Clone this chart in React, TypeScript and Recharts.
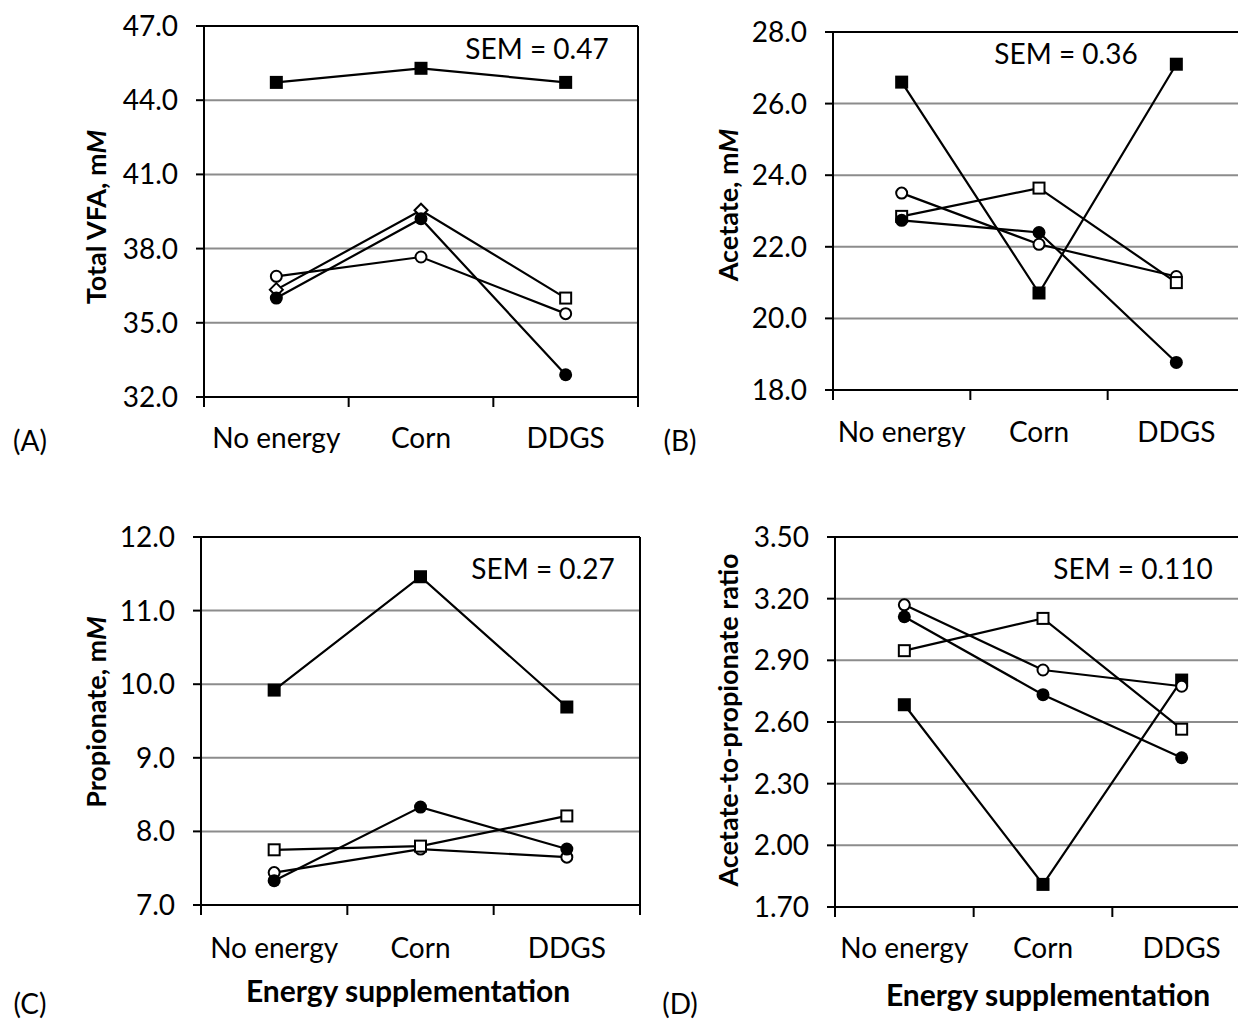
import React from "react";
import { LineChart, Line, XAxis, YAxis, CartesianGrid, ReferenceLine } from "recharts";

const categories = ["No energy", "Corn", "DDGS"];

// (A) Total VFA, mM
const vfaTicks = [32, 35, 38, 41, 44, 47];
const vfaFilledSquare = [44.72, 45.29, 44.72];
const vfaOpenCircle = [36.88, 37.66, 35.37];
const vfaOpenSquare = [36.34, 39.55, 36.0];
const vfaFilledCircle = [36.0, 39.21, 32.9];

// (B) Acetate, mM
const acetateTicks = [18, 20, 22, 24, 26, 28];
const acetateFilledSquare = [26.6, 20.71, 27.1];
const acetateOpenCircle = [23.5, 22.07, 21.17];
const acetateOpenSquare = [22.85, 23.64, 21.0];
const acetateFilledCircle = [22.74, 22.4, 18.77];

// (C) Propionate, mM
const propTicks = [7, 8, 9, 10, 11, 12];
const propFilledSquare = [9.92, 11.46, 9.69];
const propOpenCircle = [7.44, 7.76, 7.65];
const propOpenSquare = [7.75, 7.8, 8.21];
const propFilledCircle = [7.33, 8.33, 7.76];

// (D) Acetate-to-propionate ratio
const ratioTicks = [1.7, 2.0, 2.3, 2.6, 2.9, 3.2, 3.5];
const ratioFilledSquare = [2.684, 1.81, 2.804];
const ratioOpenCircle = [3.17, 2.853, 2.774];
const ratioOpenSquare = [2.947, 3.104, 2.565];
const ratioFilledCircle = [3.112, 2.733, 2.426];

// marker shapes per point
const mFilledSquare = ["fs", "fs", "fs"];
const mOpenCircle = ["oc", "oc", "oc"];
const mOpenSquare = ["os", "os", "os"];
const mFilledCircle = ["fc", "fc", "fc"];
const mDiamondSquare = ["od", "od", "os"];

const FONT = "Lato, 'Open Sans', sans-serif";
const FS = 28;

type Series = { key: string; values: number[]; markers: string[] };

function buildRows(series: Series[]) {
  return categories.map((c, i) => {
    const row: Record<string, any> = { cat: c };
    series.forEach((s) => (row[s.key] = s.values[i]));
    return row;
  });
}

function Marker({ cx, cy, shape }: { cx: number; cy: number; shape: string }) {
  if (cx == null || cy == null) return null;
  switch (shape) {
    case "fs":
      return <rect x={cx - 6.5} y={cy - 6.5} width={13} height={13} fill="#000" />;
    case "os":
      return <rect x={cx - 5.5} y={cy - 5.5} width={11} height={11} fill="#fff" stroke="#000" strokeWidth={2} />;
    case "oc":
      return <circle cx={cx} cy={cy} r={5.5} fill="#fff" stroke="#000" strokeWidth={2} />;
    case "fc":
      return <circle cx={cx} cy={cy} r={6.5} fill="#000" />;
    case "od":
      return (
        <polygon
          points={`${cx},${cy - 6.5} ${cx + 6.5},${cy} ${cx},${cy + 6.5} ${cx - 6.5},${cy}`}
          fill="#fff"
          stroke="#000"
          strokeWidth={2}
        />
      );
    default:
      return null;
  }
}

type PanelProps = {
  left: number;
  top: number;
  width: number;
  height: number;
  margin: { top: number; right: number; bottom: number; left: number };
  yWidth: number;
  ticks: number[];
  decimals: number;
  series: Series[];
  xTickMargin: number;
};

const TICK_LEN = 10;

function Panel(p: PanelProps) {
  const rows = buildRows(p.series);
  const yMin = p.ticks[0];
  const yMax = p.ticks[p.ticks.length - 1];
  const plotWidth = p.width - p.margin.left - p.margin.right - p.yWidth - 1;
  const fallbackHalfBand = plotWidth / categories.length / 2;

  const CatTick = (t: any) => {
    const { x, y, payload, index } = t;
    const half = payload && typeof payload.offset === "number" && payload.offset > 0 ? payload.offset : fallbackHalfBand;
    const axisY = y - p.xTickMargin;
    const isLast = index === categories.length - 1;
    return (
      <g>
        <line x1={x - half} x2={x - half} y1={axisY} y2={axisY + TICK_LEN} stroke="#000" strokeWidth={2} />
        {isLast && <line x1={x + half} x2={x + half} y1={axisY} y2={axisY + TICK_LEN} stroke="#000" strokeWidth={2} />}
        <text x={x} y={y} dy="0.71em" textAnchor="middle" fill="#000" fontSize={FS} fontFamily={FONT}>
          {payload.value}
        </text>
      </g>
    );
  };

  return (
    <div style={{ position: "absolute", left: p.left, top: p.top }}>
      <LineChart width={p.width} height={p.height} data={rows} margin={p.margin}>
        <CartesianGrid xAxisId="cat" vertical={false} stroke="#8c8c8c" strokeWidth={2} />
        <XAxis
          xAxisId="cat"
          dataKey="cat"
          type="category"
          scale="band"
          height={1}
          tickSize={0}
          tickMargin={p.xTickMargin}
          axisLine={{ stroke: "#000", strokeWidth: 2 }}
          tickLine={false}
          interval={0}
          tick={CatTick}
        />
        <YAxis
          yAxisId="v"
          width={p.yWidth}
          type="number"
          domain={[yMin, yMax]}
          ticks={p.ticks}
          interval={0}
          allowDataOverflow
          tickSize={8}
          tickMargin={18}
          tickFormatter={(v: number) => v.toFixed(p.decimals)}
          axisLine={{ stroke: "#000", strokeWidth: 2 }}
          tickLine={{ stroke: "#000", strokeWidth: 2 }}
          tick={{ fill: "#000", fontSize: FS, fontFamily: FONT }}
        />
        <YAxis
          yAxisId="border"
          orientation="right"
          width={1}
          type="number"
          domain={[yMin, yMax]}
          tick={false}
          tickLine={false}
          axisLine={{ stroke: "#000", strokeWidth: 2 }}
        />
        <CartesianGrid xAxisId="cat" yAxisId="v" vertical={false} stroke="#8c8c8c" strokeWidth={2} />
        <ReferenceLine xAxisId="cat" yAxisId="v" y={yMax} stroke="#000" strokeWidth={2} ifOverflow="visible" />
        {p.series.map((s) => (
          <Line
            key={s.key}
            xAxisId="cat"
            yAxisId="v"
            dataKey={s.key}
            stroke="#000"
            strokeWidth={2.2}
            isAnimationActive={false}
            activeDot={false}
            dot={(d: any) => <Marker key={`${s.key}-${d.index}`} cx={d.cx} cy={d.cy} shape={s.markers[d.index]} />}
          />
        ))}
      </LineChart>
    </div>
  );
}

const textStyle: React.CSSProperties = {
  position: "absolute",
  fontFamily: FONT,
  fontSize: FS,
  color: "#000",
  whiteSpace: "nowrap",
  lineHeight: 1,
};

function YTitle({ cx, cy, children }: { cx: number; cy: number; children: React.ReactNode }) {
  return (
    <div
      style={{
        ...textStyle,
        left: cx,
        top: cy,
        fontWeight: 700,
        fontSize: 27,
        transform: "translate(-50%, -50%) rotate(-90deg)",
      }}
    >
      {children}
    </div>
  );
}

function Txt({ x, y, children, bold }: { x: number; y: number; children: React.ReactNode; bold?: boolean }) {
  return (
    <div
      style={{
        ...textStyle,
        left: x,
        top: y,
        fontWeight: bold ? 700 : 400,
        fontSize: bold ? 30 : FS,
        transform: "translate(-50%, -50%)",
      }}
    >
      {children}
    </div>
  );
}

export default function App() {
  const seriesA: Series[] = [
    { key: "fs", values: vfaFilledSquare, markers: mFilledSquare },
    { key: "oc", values: vfaOpenCircle, markers: mOpenCircle },
    { key: "os", values: vfaOpenSquare, markers: mDiamondSquare },
    { key: "fc", values: vfaFilledCircle, markers: mFilledCircle },
  ];
  const seriesB: Series[] = [
    { key: "fs", values: acetateFilledSquare, markers: mFilledSquare },
    { key: "oc", values: acetateOpenCircle, markers: mOpenCircle },
    { key: "os", values: acetateOpenSquare, markers: mOpenSquare },
    { key: "fc", values: acetateFilledCircle, markers: mFilledCircle },
  ];
  const seriesC: Series[] = [
    { key: "fs", values: propFilledSquare, markers: mFilledSquare },
    { key: "oc", values: propOpenCircle, markers: mOpenCircle },
    { key: "os", values: propOpenSquare, markers: mOpenSquare },
    { key: "fc", values: propFilledCircle, markers: mFilledCircle },
  ];
  const seriesD: Series[] = [
    { key: "fs", values: ratioFilledSquare, markers: mFilledSquare },
    { key: "oc", values: ratioOpenCircle, markers: mOpenCircle },
    { key: "os", values: ratioOpenSquare, markers: mOpenSquare },
    { key: "fc", values: ratioFilledCircle, markers: mFilledCircle },
  ];

  return (
    <div
      style={{
        position: "absolute",
        left: 0,
        top: 0,
        width: 1238,
        height: 1020,
        overflow: "hidden",
        background: "#fff",
      }}
    >
      <Panel
        left={0}
        top={0}
        width={650}
        height={470}
        margin={{ top: 26, right: 11, bottom: 72, left: 0 }}
        yWidth={204}
        ticks={vfaTicks}
        decimals={1}
        series={seriesA}
        xTickMargin={31}
      />
      <Panel
        left={640}
        top={0}
        width={610}
        height={470}
        margin={{ top: 32, right: 4, bottom: 79, left: 0 }}
        yWidth={193}
        ticks={acetateTicks}
        decimals={1}
        series={seriesB}
        xTickMargin={32}
      />
      <Panel
        left={0}
        top={510}
        width={650}
        height={510}
        margin={{ top: 27, right: 9, bottom: 114, left: 0 }}
        yWidth={201}
        ticks={propTicks}
        decimals={1}
        series={seriesC}
        xTickMargin={33}
      />
      <Panel
        left={640}
        top={510}
        width={620}
        height={510}
        margin={{ top: 27, right: 8, bottom: 112, left: 0 }}
        yWidth={195}
        ticks={ratioTicks}
        decimals={2}
        series={seriesD}
        xTickMargin={31}
      />

      <YTitle cx={95} cy={217}>
        Total VFA, m<i>M</i>
      </YTitle>
      <YTitle cx={727} cy={205}>
        Acetate, m<i>M</i>
      </YTitle>
      <YTitle cx={95} cy={712}>
        Propionate, m<i>M</i>
      </YTitle>
      <YTitle cx={727} cy={720}>
        Acetate-to-propionate ratio
      </YTitle>

      <Txt x={408} y={990} bold>
        Energy supplementation
      </Txt>
      <Txt x={1048} y={994} bold>
        Energy supplementation
      </Txt>

      <Txt x={537} y={48}>SEM = 0.47</Txt>
      <Txt x={1066} y={53}>SEM = 0.36</Txt>
      <Txt x={543} y={568}>SEM = 0.27</Txt>
      <Txt x={1133} y={568}>SEM = 0.110</Txt>

      <Txt x={30} y={440}>(A)</Txt>
      <Txt x={680} y={440}>(B)</Txt>
      <Txt x={30} y={1003}>(C)</Txt>
      <Txt x={680} y={1003}>(D)</Txt>
    </div>
  );
}
